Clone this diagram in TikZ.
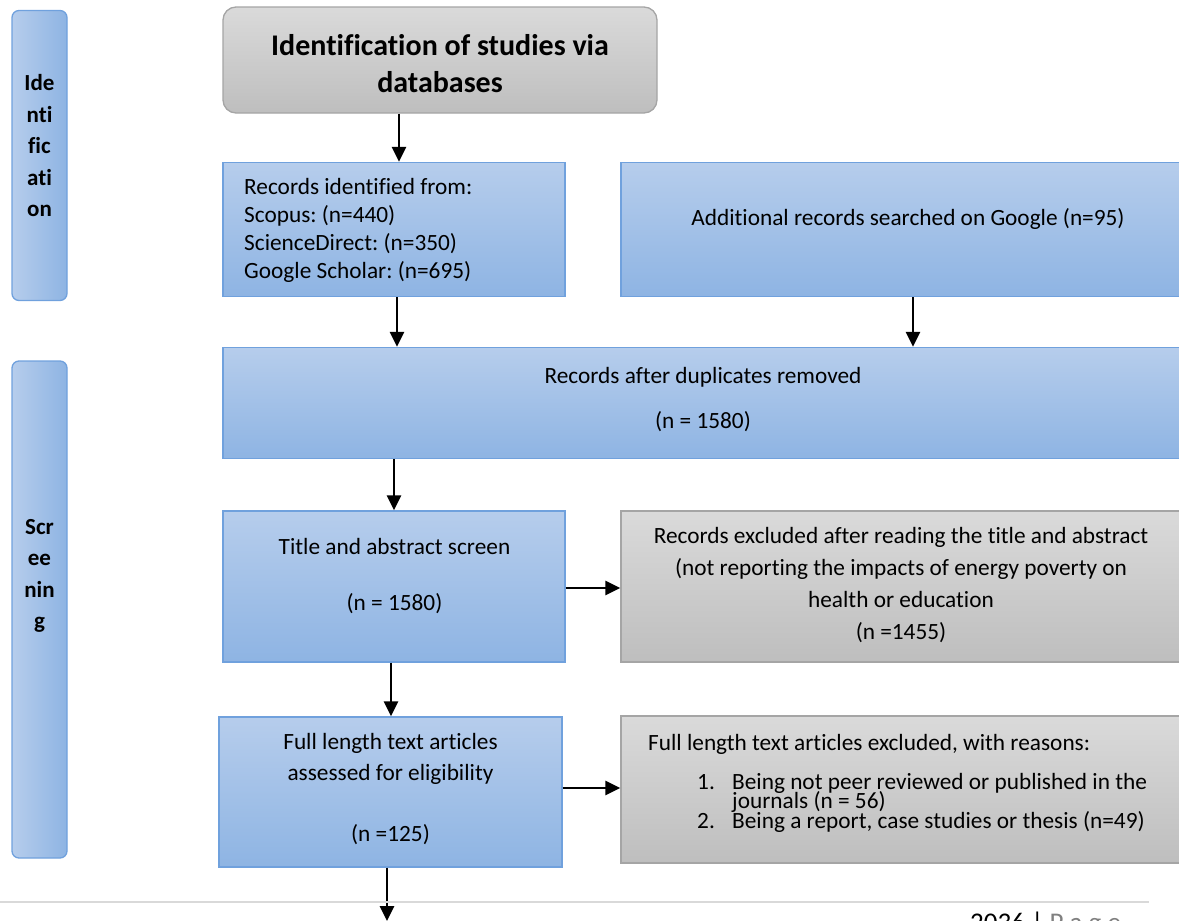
\documentclass[tikz,border=0pt]{standalone}
\usepackage{fontspec}
\setmainfont{Carlito}[Ligatures=CommonOff]
\usepackage{xcolor}
\usetikzlibrary{arrows.meta}

\definecolor{bluetop}{RGB}{182,205,236}
\definecolor{bluebot}{RGB}{142,180,227}
\definecolor{blueline}{RGB}{112,161,221}
\definecolor{graytop}{RGB}{218,218,218}
\definecolor{graybot}{RGB}{190,190,190}
\definecolor{grayline}{RGB}{165,165,165}
\definecolor{footline}{RGB}{217,217,217}
\definecolor{pagegray}{RGB}{128,128,128}
\newcommand\tightlines{\lineskiplimit=-100pt\relax}
\frenchspacing

\begin{document}
\begin{tikzpicture}[x=1pt,y=-1pt,
	box/.style={rectangle, inner sep=0pt, line width=1.3pt},
	bluebox/.style={box, draw=blueline, top color=bluetop, bottom color=bluebot},
	graybox/.style={box, draw=grayline, top color=graytop, bottom color=graybot},
	phase/.style={box, draw=blueline, rounded corners=7pt, left color=bluetop, right color=bluebot, minimum width=55pt},
	txt/.style={inner sep=0pt, align=center, font=\fontsize{23.3}{28}\selectfont},
	phtxt/.style={inner sep=0pt, align=center, font=\fontsize{23}{31.5}\selectfont\bfseries},
	arr/.style={line width=2.6pt, -{Triangle[length=15pt,width=14pt]}}]
	\useasboundingbox (0,0) rectangle (1179,921);
	\clip (0,0) rectangle (1179,921);

	\node[phase, minimum height=290pt] (phid) at (39.5,155.5) {};
	\node[phtxt] (phidT) at (39.5,146) {Ide\\nti\\fic\\ati\\on};
	\node[phase, minimum height=497pt] (phsc) at (39.5,609.5) {};
	\node[phtxt] (phscT) at (39.5,576) {Scr\\ee\\nin\\g};

	\node[graybox, rounded corners=13pt, minimum width=434pt, minimum height=106pt] (top) at (440,60) {};
	\node[txt, font=\fontsize{30}{37}\selectfont\bfseries] (topT) at (440,64) {Identification of studies via\\databases};

	\node[bluebox, minimum width=342pt, minimum height=134pt] (rec) at (394,229.5) {};
	\node[txt, align=left, anchor=west] (recT) at (244,230) {Records identified from:\\Scopus: (n=440)\\ScienceDirect: (n=350)\\Google Scholar: (n=695)};
	\node[bluebox, minimum width=575pt, minimum height=134pt] (add) at (908.5,229.5) {};
	\node[txt] (addT) at (908,219) {Additional records searched on Google (n=95)};

	\node[bluebox, minimum width=972pt, minimum height=111pt] (dup) at (709,403) {};
	\node[txt, font=\fontsize{23.3}{45}\selectfont] (dupT) at (703,400) {Records after duplicates removed\\(n = 1580)};

	\node[bluebox, minimum width=342pt, minimum height=151pt] (tas) at (394,586.5) {};
	\node[txt, font=\fontsize{23.3}{56}\selectfont] (tasT) at (394.5,576) {Title and abstract screen\\(n = 1580)};
	\node[graybox, minimum width=575pt, minimum height=151pt] (excl) at (908.5,586.5) {};
	\node[txt, font=\fontsize{23.3}{31.7}\selectfont] (exclT) at (901,585) {Records excluded after reading the title and abstract\\(not reporting the impacts of energy poverty on\\health or education\\(n =1455)};

	\node[bluebox, minimum width=343pt, minimum height=150pt] (full) at (390.5,792) {};
	\node[txt, font=\fontsize{23.3}{31}\selectfont] (fullT) at (390.5,789) {Full length text articles\\assessed for eligibility\\[30pt](n =125)};
	\node[graybox, minimum width=575pt, minimum height=147pt] (reas) at (908.5,789.5) {};
	\node[txt, align=left, anchor=north west, font=\fontsize{23.3}{18.5}\selectfont\tightlines] (reasT) at (648,734) {Full length text articles excluded, with reasons:\\[21pt]
		\hspace*{49pt}\makebox[35pt][l]{1.}Being not peer reviewed or published in the\\
		\hspace*{84pt}journals (n = 56)\\[2pt]
		\hspace*{49pt}\makebox[35pt][l]{2.}Being a report, case studies or thesis (n=49)};

	\coordinate (out) at (387,921);
	\draw[arr] ([xshift=5pt]rec.north |- top.south) -- ([xshift=5pt]rec.north);
	\draw[arr] ([xshift=3pt]rec.south) -- ([xshift=3pt]rec.south |- dup.north);
	\draw[arr] ([xshift=4.5pt]add.south) -- ([xshift=4.5pt]add.south |- dup.north);
	\draw[arr] (tas.north |- dup.south) -- (tas.north);
	\draw[arr] (tas.east |- 0,588) -- (excl.west |- 0,588);
	\draw[arr] ([xshift=-3pt]tas.south) -- ([xshift=-3pt]tas.south |- full.north);
	\draw[arr] (full.east |- 0,788) -- (reas.west |- 0,788);
	\draw[arr] (out |- full.south) -- (out);

	\coordinate (rule) at (1149,902);
	\draw[footline, line width=2pt] (0,902) -- (rule);
	\node[inner sep=0pt, anchor=base west, font=\fontsize{27}{30}\selectfont] (page) at (970,931) {2036 | \textcolor{pagegray}{P a g e}};
\end{tikzpicture}
\end{document}
